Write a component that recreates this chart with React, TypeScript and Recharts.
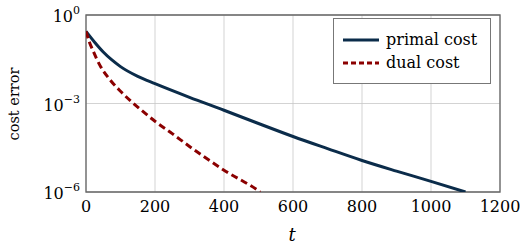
import { LineChart, Line, XAxis, YAxis, CartesianGrid, ReferenceArea, Legend, Label } from 'recharts';

// iterations and cost errors
const primalT = [0, 25, 50, 75, 100, 150, 200, 300, 400, 500, 600, 700, 800, 900, 1000, 1100];
const primalCost = [2.8e-1, 1.2e-1, 5.6e-2, 3.0e-2, 1.78e-2, 8.3e-3, 4.7e-3, 1.62e-3, 5.9e-4, 2.1e-4, 7.6e-5, 2.95e-5, 1.17e-5, 5.1e-6, 2.3e-6, 1.0e-6];

const dualT = [0, 10, 20, 40, 70, 100, 130, 160, 200, 250, 300, 400, 500, 505];
const dualCost = [2.8e-1, 1.2e-1, 6.3e-2, 2.0e-2, 6.3e-3, 2.6e-3, 1.2e-3, 6.0e-4, 2.5e-4, 9.5e-5, 3.5e-5, 5.5e-6, 1.1e-6, 1.0e-6];

const xTicks = [0, 200, 400, 600, 800, 1000, 1200];
const yTicks = [1, 1e-3, 1e-6];
const yTickExponents = ['0', '\u22123', '\u22126'];

const primalData = primalT.map((t, i) => ({ t, cost: primalCost[i] }));
const dualData = dualT.map((t, i) => ({ t, cost: dualCost[i] }));

const FONT = "'DejaVu Serif', 'Liberation Serif', serif";
const PRIMAL = '#0b2c4a';
const DUAL = '#8b0000';

function XTick({ x, y, payload }: any) {
  return (
    <text x={x} y={y} dy={20} textAnchor="middle" style={{ fontFamily: FONT }} fontSize={16} fill="#000">
      {payload.value}
    </text>
  );
}

function YTick({ x, y, payload }: any) {
  const idx = yTicks.indexOf(payload.value);
  return (
    <text x={x - 6} y={y} dy={7} textAnchor="end" style={{ fontFamily: FONT }} fontSize={16} fill="#000">
      <tspan>10</tspan>
      <tspan dy={-8} fontSize={11}>{yTickExponents[idx]}</tspan>
    </text>
  );
}

function LegendBox() {
  const rows = [
    { name: 'primal cost', color: PRIMAL, dash: undefined },
    { name: 'dual cost', color: DUAL, dash: '5 3' },
  ];
  return (
    <div
      style={{
        width: 158,
        height: 66,
        border: '1px solid #777',
        background: '#fff',
        boxSizing: 'border-box',
        padding: '9px 0 0 9px',
        fontFamily: FONT,
        fontSize: 16,
        color: '#000',
      }}
    >
      {rows.map((r) => (
        <div key={r.name} style={{ display: 'flex', alignItems: 'center', height: 23 }}>
          <svg width={36} height={10} style={{ marginRight: 7 }}>
            <line x1={0} y1={5} x2={36} y2={5} stroke={r.color} strokeWidth={3} strokeDasharray={r.dash} />
          </svg>
          <span>{r.name}</span>
        </div>
      ))}
    </div>
  );
}

export default function App() {
  return (
    <div style={{ position: 'absolute', left: 0, top: 0, background: '#fff' }}>
      <LineChart width={526} height={249} margin={{ top: 15, right: 26, bottom: 0, left: 0 }}>
        <CartesianGrid stroke="#c8c8c8" strokeWidth={0.8} />
        <XAxis
          dataKey="t"
          type="number"
          domain={[0, 1200]}
          ticks={xTicks}
          allowDataOverflow
          height={57}
          tickSize={0}
          tickMargin={0}
          axisLine={false}
          tickLine={false}
          tick={<XTick />}
        >
          <Label
            content={() => (
              <text x={292} y={241} textAnchor="middle" style={{ fontFamily: FONT }} fontStyle="italic" fontSize={18}>
                t
              </text>
            )}
          />
        </XAxis>
        <YAxis
          type="number"
          scale="log"
          domain={[1e-6, 1]}
          ticks={yTicks}
          allowDataOverflow
          width={86}
          tickSize={0}
          tickMargin={0}
          axisLine={false}
          tickLine={false}
          tick={<YTick />}
        >
          <Label
            content={() => (
              <text
                x={19}
                y={104}
                transform="rotate(-90 19 104)"
                textAnchor="middle"
                style={{ fontFamily: FONT }}
                fontSize={14.5}
              >
                cost error
              </text>
            )}
          />
        </YAxis>
        <ReferenceArea x1={0} x2={1200} y1={1e-6} y2={1} fill="none" stroke="#666" strokeWidth={1.3} />
        <Line
          data={primalData}
          dataKey="cost"
          type="monotone"
          stroke={PRIMAL}
          strokeWidth={3}
          dot={false}
          isAnimationActive={false}
        />
        <Line
          data={dualData}
          dataKey="cost"
          type="monotone"
          stroke={DUAL}
          strokeWidth={3}
          strokeDasharray="7 4"
          dot={false}
          isAnimationActive={false}
        />
        <Legend
          layout="vertical"
          align="center"
          verticalAlign="middle"
          wrapperStyle={{ position: 'absolute', left: 333, top: 18, width: 158 }}
          content={() => <LegendBox />}
        />
      </LineChart>
    </div>
  );
}
